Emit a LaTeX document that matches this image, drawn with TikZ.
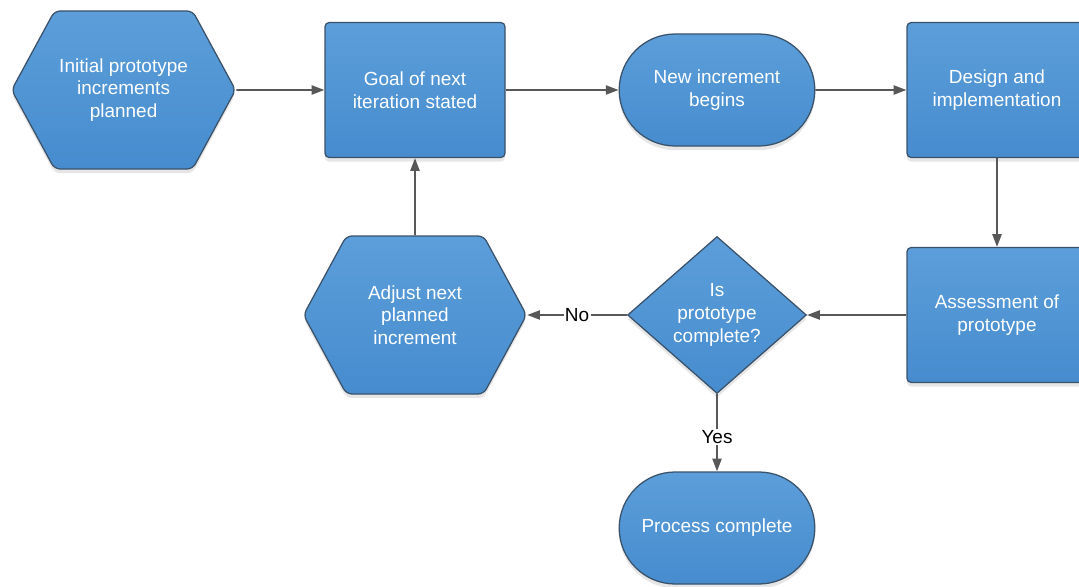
\documentclass[tikz,border=0pt]{standalone}
\usepackage{fontspec}
\setmainfont{Liberation Sans}
\usetikzlibrary{positioning,shapes.geometric,shapes.misc,shapes.symbols,arrows.meta,shadows}

\definecolor{flowblue}{RGB}{70,140,206}
\definecolor{flowbluelight}{RGB}{92,158,218}
\definecolor{flowedge}{RGB}{58,82,106}
\definecolor{flowarrow}{RGB}{88,88,88}

\begin{document}
\begin{tikzpicture}[
    on grid,
    >={Triangle[length=9pt,width=6.5pt]},
    flowshape/.style={draw=flowedge, line width=0.9pt, top color=flowbluelight, bottom color=flowblue,
        text=white, align=center, font=\fontsize{13.5}{16.2}\selectfont,
        drop shadow={opacity=0.2, shadow xshift=0pt, shadow yshift=-3pt}},
    hexa/.style={flowshape, signal, signal to=west and east, signal pointer angle=123,
        rounded corners=4pt, minimum width=5.575cm, minimum height=3.95cm},
    stepbox/.style={flowshape, rectangle, rounded corners=3pt, minimum width=4.5cm, minimum height=3.375cm},
    pill/.style={flowshape, rounded rectangle, minimum width=5.125cm, minimum height=2.8cm},
    decision/.style={flowshape, diamond, aspect=1.14, minimum width=4.375cm, minimum height=3.85cm},
    flow/.style={->, draw=flowarrow, line width=1.2pt},
    answer/.style={fill=white, inner sep=1pt, text=black, font=\fontsize{13.5}{16.2}\selectfont}
]
    \useasboundingbox (0,0) rectangle (26.975,14.65);

    \node (planned) [hexa] at (3.09,12.4) {Initial prototype\\increments\\planned};
    \node (goal) [stepbox, right=7.285cm of planned] {Goal of next\\iteration stated};
    \node (begins) [pill, right=7.55cm of goal] {New increment\\begins};
    \node (design) [stepbox, right=7cm of begins] {Design and\\implementation};
    \node (assess) [stepbox, below=5.625cm of design] {Assessment of\\prototype};
    \node (check) [decision, left=7cm of assess] {Is\\prototype\\complete?};
    \node (adjust) [hexa, left=7.55cm of check] {Adjust next\\planned\\increment};
    \node (done) [pill, below=5.325cm of check] {Process complete};

    \draw[flow] (planned) -- (goal);
    \draw[flow] (goal) -- (begins);
    \draw[flow] (begins) -- (design);
    \draw[flow] (design) -- (assess);
    \draw[flow] (assess) -- (check);
    \draw[flow] (check) -- node[answer] {No} (adjust);
    \draw[flow] (check) -- node[answer, pos=0.55] {Yes} (done);
    \draw[flow] (adjust) -- (goal);
\end{tikzpicture}
\end{document}
